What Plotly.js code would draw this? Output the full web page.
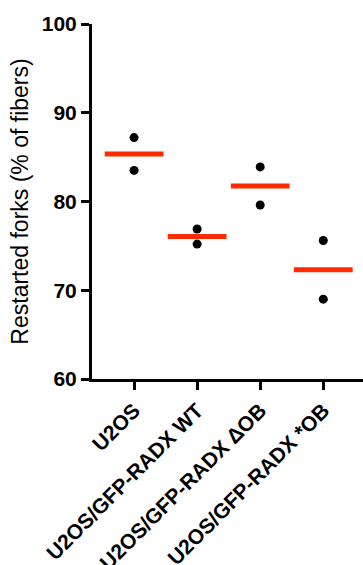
<!DOCTYPE html>
<html>
<head>
<meta charset="utf-8">
<script src="https://cdn.plot.ly/plotly-3.0.1.min.js"></script>
<style>html,body{margin:0;padding:0;background:#fff;}#chart{width:363px;height:565px;}</style>
</head>
<body>
<div id="chart"></div>
<script>
const categories = ["U2OS", "U2OS/GFP-RADX WT", "U2OS/GFP-RADX ΔOB", "U2OS/GFP-RADX *OB"];
const rep1 = [87.2, 76.9, 83.9, 75.6];
const rep2 = [83.5, 75.2, 79.6, 69.0];
const yTicks = [60, 70, 80, 90, 100];

const xs = [], ys = [];
categories.forEach((c, i) => { xs.push(c, c); ys.push(rep1[i], rep2[i]); });
const means = categories.map((c, i) => (rep1[i] + rep2[i]) / 2);

const font = "Arial, 'Liberation Sans', sans-serif";
const data = [
  {
    type: "scatter", mode: "markers", x: categories, y: means,
    marker: {symbol: "line-ew", size: 42, color: "#ff2a00", line: {color: "#ff2a00", width: 5}},
    hoverinfo: "skip", showlegend: false, cliponaxis: false
  },
  {
    type: "scatter", mode: "markers", x: xs, y: ys,
    marker: {symbol: "circle", size: 9, color: "#000"},
    showlegend: false, cliponaxis: false
  }
];
const layout = {
  width: 363, height: 565,
  margin: {l: 92, r: 0, t: 24, b: 186},
  paper_bgcolor: "#fff", plot_bgcolor: "#fff",
  showlegend: false,
  xaxis: {
    type: "category", categoryorder: "array", categoryarray: categories,
    range: [-0.667, 3.63],
    showline: true, linewidth: 3, linecolor: "#000",
    ticks: "outside", ticklen: 8, tickwidth: 3, tickcolor: "#000",
    tickangle: -45, showgrid: false, zeroline: false,
    tickfont: {family: font, size: 21, color: "#000", weight: "bold"},
    automargin: false
  },
  yaxis: {
    range: [60, 100], tickvals: yTicks, ticktext: yTicks.map(String),
    showline: true, linewidth: 3, linecolor: "#000",
    ticks: "outside", ticklen: 8, tickwidth: 3, tickcolor: "#000",
    showgrid: false, zeroline: false,
    tickfont: {family: font, size: 21, color: "#000", weight: "bold"},
    title: {text: "Restarted forks (% of fibers)", font: {family: font, size: 23, color: "#000"}, standoff: 7},
    automargin: false
  }
};
Plotly.newPlot("chart", data, layout, {displayModeBar: false, staticPlot: true});
</script>
</body>
</html>
